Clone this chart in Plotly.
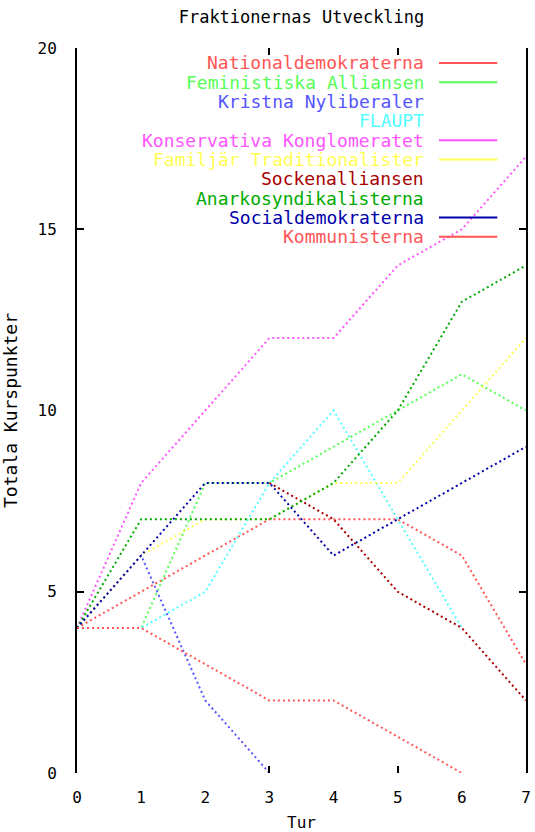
import plotly.graph_objects as go

# ---- data ----
rounds = [0, 1, 2, 3, 4, 5, 6, 7]
x_tick_labels = ["0", "1", "2", "3", "4", "5", "6", "7"]
y_tick_vals = [0, 5, 10, 15, 20]
y_tick_labels = ["0", "5", "10", "15", "20"]
x_marks = [3, 5]
y_marks = [5, 15]

names = [
    "Nationaldemokraterna",
    "Feministiska Alliansen",
    "Kristna Nyliberaler",
    "FLAUPT",
    "Konservativa Konglomeratet",
    "Familjär Traditionalister",
    "Sockenalliansen",
    "Anarkosyndikalisterna",
    "Socialdemokraterna",
    "Kommunisterna",
]

nationaldemokraterna = [4, 5, 6, 7, 7, 7, 6, 3]
feministiska = [4, 4, 8, 8, 9, 10, 11, 10]
kristna = [4, 6, 2, 0, None, None, None, None]
flaupt = [4, 4, 5, 8, 10, 7, 4, None]
konservativa = [4, 8, 10, 12, 12, 14, 15, 17]
familjar = [4, 6, 7, 7, 8, 8, 10, 12]
sockenalliansen = [None, None, None, 8, 7, 5, 4, 2]
anarko = [4, 7, 7, 7, 8, 10, 13, 14]
socialdem = [4, 6, 8, 8, 6, 7, 8, 9]
kommunisterna = [4, 4, 3, 2, 2, 1, 0, None]

series = [nationaldemokraterna, feministiska, kristna, flaupt, konservativa,
          familjar, sockenalliansen, anarko, socialdem, kommunisterna]

colors = ["#FF5555", "#55FF55", "#5555FF", "#55FFFF", "#FF55FF",
          "#FFFF55", "#AA0000", "#00AA00", "#0000AA", "#FF5555"]
legend_sample = [True, True, False, False, True, True, False, False, True, True]

FONT = "DejaVu Sans Mono"

fig = go.Figure()
for name, vals, col in zip(names, series, colors):
    fig.add_trace(go.Scatter(
        x=rounds, y=vals, mode="lines", name=name, showlegend=False,
        line=dict(color=col, width=2, dash="2px,3px"),
        connectgaps=False, hoverinfo="skip",
    ))

# helper trace for overlay tick axes
fig.add_trace(go.Scatter(x=[], y=[], xaxis="x2", yaxis="y2", showlegend=False))

# gnuplot-style key: right-aligned text with sample line to its right
ML, MR, MT, MB = 77, 4, 48, 56
W, H = 535, 832
pw, ph = W - ML - MR, H - MT - MB
row_h = 19.4 / ph
y0 = (H - MB - 63) / ph
text_x = (430 - ML) / pw
s0, s1 = (443 - ML) / pw, (502 - ML) / pw
for i, (name, col, samp) in enumerate(zip(names, colors, legend_sample)):
    yy = y0 - i * row_h
    fig.add_annotation(
        x=text_x, y=yy, xref="paper", yref="paper", text=name,
        showarrow=False, xanchor="right", yanchor="middle",
        font=dict(family=FONT, size=18, color=col),
    )
    if samp:
        fig.add_shape(type="line", xref="paper", yref="paper",
                      x0=s0, x1=s1, y0=yy, y1=yy,
                      line=dict(color=col, width=2))

fig.update_layout(
    width=W, height=H, autosize=False,
    margin=dict(l=ML, r=MR, t=MT, b=MB),
    paper_bgcolor="white", plot_bgcolor="white",
    font=dict(family=FONT, size=16, color="black"),
    title=dict(text="Fraktionernas Utveckling", x=0.5, xref="paper",
               y=1 - 17 / H, yref="container", yanchor="middle",
               xanchor="center", font=dict(family=FONT, size=17, color="black")),
    xaxis=dict(range=[0, 7], tickvals=rounds, ticktext=x_tick_labels,
               showgrid=False, zeroline=False, showline=False, ticks="",
               ticklabelstandoff=13, tickfont=dict(size=16),
               title=dict(text="Tur", standoff=10, font=dict(size=16))),
    yaxis=dict(range=[0, 20], tickvals=y_tick_vals, ticktext=y_tick_labels,
               showgrid=False, zeroline=False, showline=True, mirror=True,
               linecolor="black", linewidth=2, ticks="",
               ticklabelstandoff=15, tickfont=dict(size=16),
               title=dict(text="Totala Kurspunkter", standoff=18, font=dict(size=18))),
    xaxis2=dict(overlaying="x", anchor="y", range=[0, 7], tickvals=x_marks,
                ticks="inside", ticklen=7, tickwidth=2, tickcolor="black",
                mirror="ticks", showline=False, showticklabels=False,
                showgrid=False, zeroline=False),
    yaxis2=dict(overlaying="y", anchor="x", side="left", range=[0, 20], tickvals=y_marks,
                ticks="inside", ticklen=7, tickwidth=2, tickcolor="black",
                mirror="ticks", showline=False, showticklabels=False,
                showgrid=False, zeroline=False),
)

fig.write_html("out.html", config={"displayModeBar": False},
               post_script="document.body.style.margin='0';")
